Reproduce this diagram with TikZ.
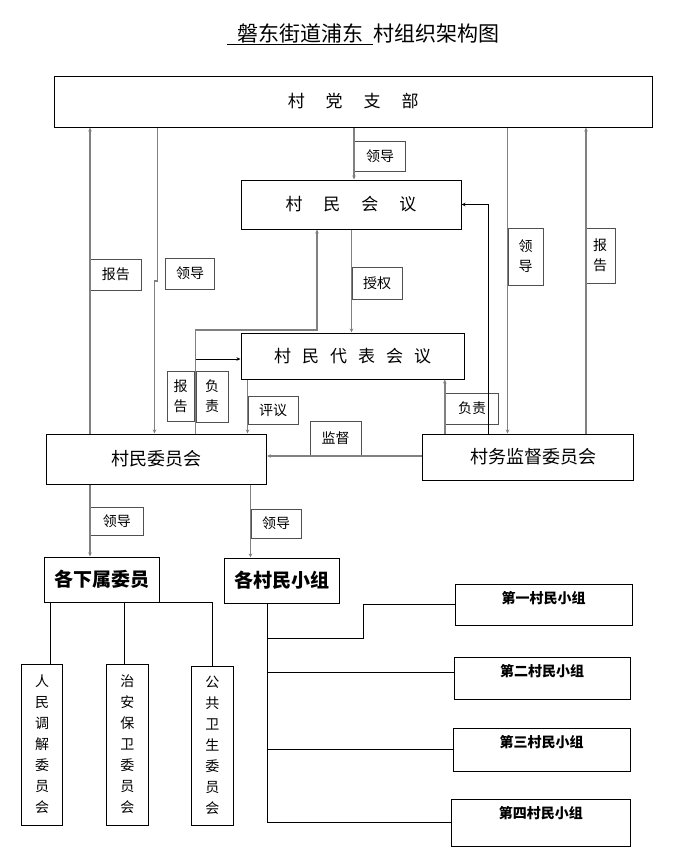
\documentclass[tikz,border=0pt]{standalone}
\usepackage{fontspec}
\setmainfont{Noto Sans CJK SC}
\usetikzlibrary{arrows.meta}
\definecolor{linegray}{HTML}{808080}
\definecolor{taggray}{HTML}{505050}
\tikzset{
  >={Stealth[length=4pt,width=3.5pt]},
  box/.style={draw, line width=1pt, inner sep=0pt},
  tag/.style={draw=taggray, line width=1pt, inner sep=0pt, align=center, font=\fontsize{14}{20}\selectfont},
  link/.style={draw=linegray, line width=1.5pt, ->},
  wire/.style={draw=black, line width=1pt},
  grp/.style={box, font=\bfseries\fontsize{14}{16}\selectfont, text height=15pt, inner ysep=4pt},
  vert/.style={box, align=center, font=\fontsize{14}{21}\selectfont},
}
\begin{document}
\begin{tikzpicture}[x=1pt,y=-1pt]
\useasboundingbox (0,0) rectangle (673,860);
\node (title) at (363,34) {\fontsize{21}{24}\selectfont\underline{\hspace{10pt}磐东街道浦东\hspace{10pt}}村组织架构图};
% main boxes
\node[box, minimum width=597.5, minimum height=51, font=\fontsize{17}{20}\selectfont] (dang) at (353.25,101.5) {村\hspace{21pt}党\hspace{21pt}支\hspace{21pt}部};
\node[box, minimum width=220, minimum height=49, font=\fontsize{17}{20}\selectfont] (huiyi) at (351,204.5) {村\hspace{21pt}民\hspace{21pt}会\hspace{21pt}议};
\node[box, minimum width=223.4, minimum height=46, font=\fontsize{17}{20}\selectfont] (daibiao) at (352.7,356) {村\hspace{11pt}民\hspace{11pt}代\hspace{11pt}表\hspace{11pt}会\hspace{11pt}议};
\node[box, minimum width=220.5, minimum height=50, font=\fontsize{18}{20}\selectfont] (cwh) at (156.25,459) {村民委员会\hspace{14pt}};
\node[box, minimum width=211.5, minimum height=46, font=\fontsize{18}{20}\selectfont] (jd) at (527.75,457) {\hspace{12pt}村务监督委员会};
\node[box, minimum width=114.4, minimum height=45, font=\bfseries\fontsize{19}{20}\selectfont] (xs) at (101.8,579.5) {各下属委员};
\node[box, minimum width=115, minimum height=45, font=\bfseries\fontsize{19}{20}\selectfont] (xz) at (282,580.5) {各村民小组};
\node[vert, minimum width=41.2, minimum height=161] (tj) at (42.1,744.5) {人\\民\\调\\解\\委\\员\\会};
\node[vert, minimum width=42.1, minimum height=161] (za) at (127.45,744.5) {治\\安\\保\\卫\\委\\员\\会};
\node[vert, minimum width=42.1, minimum height=159] (gg) at (212.45,745.5) {公\\共\\卫\\生\\委\\员\\会};
\node[grp, minimum width=177, text depth=18pt] (g1) at (543.5,604.5) {第一村民小组};
\node[grp, minimum width=176, text depth=19pt] (g2) at (542,678) {第二村民小组};
\node[grp, minimum width=177, text depth=20pt] (g3) at (541.5,749.5) {第三村民小组};
\node[grp, minimum width=178.5, text depth=24pt] (g4) at (540.75,822.5) {第四村民小组};
% labels
\node[tag, minimum width=51, minimum height=30] (l1) at (380,156) {领导};
\node[tag, minimum width=50.5, minimum height=31] (l2) at (115.75,274.5) {报告};
\node[tag, minimum width=49, minimum height=31] (l3) at (190,273.5) {领导};
\node[tag, minimum width=50, minimum height=32] (l4) at (377,283) {授权};
\node[tag, minimum width=35, minimum height=57] (l5) at (525.5,256.5) {领\\导};
\node[tag, minimum width=30, minimum height=55] (l6) at (600,255.5) {报\\告};
\node[tag, minimum width=27, minimum height=50] (l7) at (180.5,396) {报\\告};
\node[tag, minimum width=32, minimum height=51] (l8) at (212,396.5) {负\\责};
\node[tag, minimum width=50, minimum height=28] (l9) at (273,410) {评议};
\node[tag, minimum width=51, minimum height=35] (l10) at (335.5,438.5) {监督};
\node[tag, minimum width=53.5, minimum height=31] (l11) at (472,408.5) {负责};
\node[tag, minimum width=52.5, minimum height=28] (l12) at (116.75,521) {领导};
\node[tag, minimum width=50, minimum height=29] (l13) at (276,523.5) {领导};
% connectors
\draw[link] (l2.west |- cwh.north) -- (l2.west |- dang.south);
\draw[link] (157.5,0 |- dang.south) -- (157.5,281) -- (154.5,281) -- (154.5,0 |- cwh.north);
\draw[link] (l1.west |- dang.south) -- (l1.west |- huiyi.north);
\draw[link] (l4.west |- huiyi.south) -- (l4.west |- daibiao.north);
\draw[link] (l8.west |- cwh.north) -- (l8.west |- 0,330) -- (317,330) -- (317,0 |- huiyi.south);
\draw[wire, ->] (l8.west |- 0,359) -- (daibiao.west |- 0,359);
\draw[link] (l9.west |- daibiao.south) -- (l9.west |- cwh.north);
\draw[link] (l11.west |- jd.north) -- (l11.west |- daibiao.south);
\draw[link] (jd.west |- 0,456) -- (cwh.east |- 0,456);
\draw[wire, ->] (488,0 |- jd.north) |- (huiyi.east);
\draw[link] (l5.west |- dang.south) -- (l5.west |- jd.north);
\draw[link] (586,0 |- jd.north) -- (586,0 |- dang.south);
\draw[link] (l12.west |- cwh.south) -- (l12.west |- xs.north);
\draw[link] (l13.west |- cwh.south) -- (l13.west |- xz.north);
% tree
\draw[wire] (50,0 |- xs.south) -- (50,0 |- tj.north);
\draw[wire] (124,0 |- xs.south) -- (124,0 |- za.north);
\draw[wire] (148,0 |- xs.south) -| (gg.north);
\draw[wire] (267,0 |- xz.south) |- (g4.west);
\draw[wire] (267,638) -- (363,638) |- (g1.west);
\draw[wire] (267,672) -- (g2.west |- 0,672);
\draw[wire] (267,0 |- g3.west) -- (g3.west);
\end{tikzpicture}
\end{document}
